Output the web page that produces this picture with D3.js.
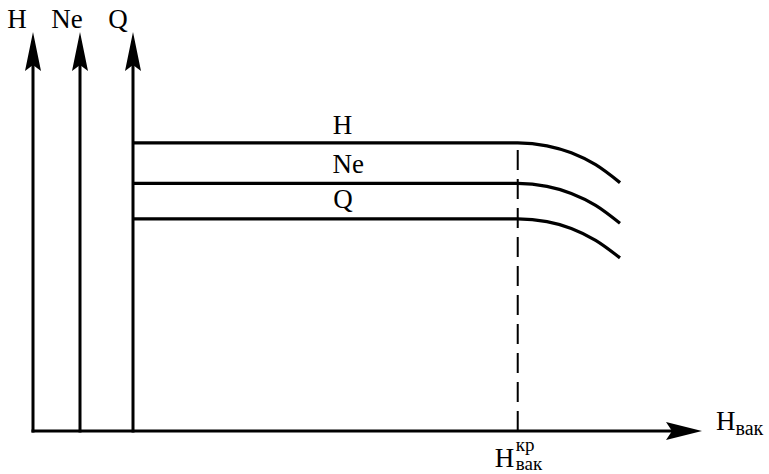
<!DOCTYPE html>
<html>
<head>
<meta charset="utf-8">
<script src="https://cdn.jsdelivr.net/npm/d3@7"></script>
<style>
  body { margin: 0; background: #fff; }
</style>
</head>
<body>
<div id="chart"></div>
<script>
// vacuum head (relative units), critical point at 79
const hvac = [0, 79, 85, 90, 95, 100];
const hvacCritical = 79;
const seriesH = [72.4, 72.4, 71.65, 69.9, 66.9, 62.4];
const seriesNe = [62.2, 62.2, 61.45, 59.7, 56.7, 52.2];
const seriesQ = [53.3, 53.3, 52.6, 50.9, 47.9, 43.5];
const seriesNames = ['H', 'Ne', 'Q'];
const labelAt = [43, 44.2, 43.1];
const axisNames = ['H', 'Ne', 'Q'];

const width = 769, height = 474;
const axisX = [33, 80, 133];
const originY = 431, topY = 32, xEnd = 702;
const serif = '"Liberation Serif", "Times New Roman", serif';

const svg = d3.select('#chart').append('svg')
    .attr('width', width)
    .attr('height', height)
    .attr('font-family', serif);

const x = d3.scaleLinear().domain([0, 100]).range([133, 620]);
const y = d3.scaleLinear().domain([0, 100]).range([originY, topY + 1]);

function arrowUp(cx, tipY) {
    return `M${cx},${tipY} L${cx + 8},${tipY + 39} L${cx},${tipY + 33} L${cx - 8},${tipY + 39} Z`;
}
function arrowRight(tipX, cy) {
    return `M${tipX},${cy} L${tipX - 36},${cy - 9} L${tipX - 30},${cy} L${tipX - 36},${cy + 9} Z`;
}

// dashed critical line
svg.append('line')
    .attr('x1', x(hvacCritical)).attr('x2', x(hvacCritical))
    .attr('y1', y(0)).attr('y2', y(seriesH[1]))
    .attr('stroke', '#000')
    .attr('stroke-width', 2)
    .attr('stroke-dasharray', '20 9');

// x axis
svg.append('line')
    .attr('x1', axisX[0] - 1.5).attr('x2', xEnd - 20)
    .attr('y1', originY).attr('y2', originY)
    .attr('stroke', '#000').attr('stroke-width', 3);
svg.append('path').attr('d', arrowRight(xEnd, originY)).attr('fill', '#000');

// vertical axes
axisX.forEach(ax => {
    svg.append('line')
        .attr('x1', ax).attr('x2', ax)
        .attr('y1', originY + 1.5).attr('y2', topY + 20)
        .attr('stroke', '#000').attr('stroke-width', 3);
    svg.append('path').attr('d', arrowUp(ax, topY)).attr('fill', '#000');
});

const tops = [17, 67, 118];
axisNames.forEach((name, i) => {
    svg.append('text')
        .attr('x', tops[i]).attr('y', 28)
        .attr('text-anchor', 'middle')
        .attr('font-size', 27)
        .text(name);
});

// curves
const line = d3.line()
    .x((d, i) => x(hvac[i]))
    .y(d => y(d))
    .curve(d3.curveMonotoneX);

[seriesH, seriesNe, seriesQ].forEach((s, k) => {
    svg.append('path')
        .datum(s)
        .attr('d', line)
        .attr('fill', 'none')
        .attr('stroke', '#000')
        .attr('stroke-width', 3.2);
    svg.append('text')
        .attr('x', x(labelAt[k]))
        .attr('y', y(s[0]) - 9 - k)
        .attr('text-anchor', 'middle')
        .attr('font-size', 27)
        .text(seriesNames[k]);
});

// x axis label
const xl = svg.append('text')
    .attr('x', 716).attr('y', 430)
    .attr('font-size', 27);
xl.append('tspan').text('H');
xl.append('tspan').attr('font-size', 20).attr('dy', 5).text('вак');

// critical label
const cl = svg.append('g')
    .attr('transform', `translate(${x(hvacCritical) - 23},0)`);
cl.append('text').attr('x', 0).attr('y', 467).attr('font-size', 27).text('H');
cl.append('text').attr('x', 21).attr('y', 451).attr('font-size', 19).text('кр');
cl.append('text').attr('x', 21).attr('y', 470).attr('font-size', 19).text('вак');
</script>
</body>
</html>
